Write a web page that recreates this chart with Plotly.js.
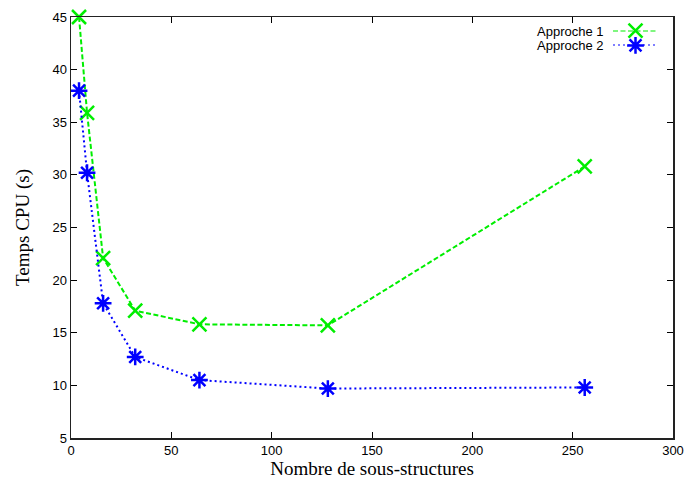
<!DOCTYPE html>
<html><head><meta charset="utf-8">
<script src="https://cdn.plot.ly/plotly-3.0.1.min.js"></script>
<style>html,body{margin:0;padding:0;background:#fff}#chart{width:689px;height:484px}</style>
</head><body><div id="chart"></div>
<script>
const subStructures = [4, 8, 16, 32, 64, 128, 256];
const approche1 = [45.0, 35.9, 22.1, 17.1, 15.8, 15.7, 30.8];
const approche2 = [38.0, 30.2, 17.8, 12.7, 10.5, 9.7, 9.8];
const seriesNames = ["Approche 1", "Approche 2"];
const xTicks = [0, 50, 100, 150, 200, 250, 300];
const yTicks = [5, 10, 15, 20, 25, 30, 35, 40, 45];

const green = "#00ee00", blue = "#0000ff";
const dashG = "5px,2.5px", dotB = "2px,3px";
const mG = {symbol: "x-thin-open", size: 14, color: green, line: {color: green, width: 2.5}};
const mB = {symbol: "asterisk-open", size: 14, color: blue, line: {color: blue, width: 2.5}};
const traces = [
  {x: subStructures, y: approche1, mode: "lines+markers", name: seriesNames[0], cliponaxis: false,
   line: {color: green, width: 2, dash: dashG}, marker: mG},
  {x: subStructures, y: approche2, mode: "lines+markers", name: seriesNames[1], cliponaxis: false,
   line: {color: blue, width: 2, dash: dotB}, marker: mB},
  // legend samples on overlay axes
  {x: [0, 1], y: [0, 0], xaxis: "x2", yaxis: "y2", mode: "lines", cliponaxis: false, line: {color: green, width: 2, dash: dashG}, hoverinfo: "skip"},
  {x: [0.5], y: [0], xaxis: "x2", yaxis: "y2", mode: "markers", cliponaxis: false, marker: mG, hoverinfo: "skip"},
  {x: [0, 1], y: [1, 1], xaxis: "x2", yaxis: "y2", mode: "lines", cliponaxis: false, line: {color: blue, width: 2, dash: dotB}, hoverinfo: "skip"},
  {x: [0.5], y: [1], xaxis: "x2", yaxis: "y2", mode: "markers", cliponaxis: false, marker: mB, hoverinfo: "skip"}
];

const W = 689, H = 484, ml = 71, mr = 16, mt = 17, mb = 46;
const pw = W - ml - mr, ph = H - mt - mb;
const lx0 = (613 - ml) / pw, lx1 = (658 - ml) / pw;
const ly1 = 1 - (31 - mt) / ph, ly2 = 1 - (45 - mt) / ph;

const layout = {
  width: W, height: H,
  margin: {l: ml, r: mr, t: mt, b: mb},
  paper_bgcolor: "#fff", plot_bgcolor: "#fff",
  showlegend: false,
  font: {family: "Liberation Sans, Arial, sans-serif", size: 13, color: "#000"},
  xaxis: {range: [0, 300], tickvals: xTicks, ticks: "inside", ticklen: 6, tickcolor: "#000",
          showline: true, linecolor: "#222", linewidth: 1.5, mirror: "allticks", showgrid: false, zeroline: false,
          title: {text: "Nombre de sous-structures", font: {family: "Liberation Serif, Times New Roman, serif", size: 19}, standoff: 4}},
  yaxis: {range: [5, 45], tickvals: yTicks, ticks: "inside", ticklen: 6, tickcolor: "#000",
          showline: true, linecolor: "#222", linewidth: 1.5, mirror: "allticks", showgrid: false, zeroline: false,
          title: {text: "Temps CPU (s)", font: {family: "Liberation Serif, Times New Roman, serif", size: 19}, standoff: 18}},
  xaxis2: {domain: [lx0, lx1], range: [0, 1], visible: false, anchor: "y2"},
  yaxis2: {domain: [ly2 - 0.001, ly1 + 0.001], range: [1, 0], visible: false, anchor: "x2"},
  annotations: [
    {xref: "paper", yref: "paper", x: (606 - ml) / pw, y: ly1, xanchor: "right", yanchor: "middle", showarrow: false,
     text: seriesNames[0], font: {size: 13}},
    {xref: "paper", yref: "paper", x: (606 - ml) / pw, y: ly2, xanchor: "right", yanchor: "middle", showarrow: false,
     text: seriesNames[1], font: {size: 13}}
  ]
};
Plotly.newPlot("chart", traces, layout, {displayModeBar: false, staticPlot: true});
</script></body></html>
